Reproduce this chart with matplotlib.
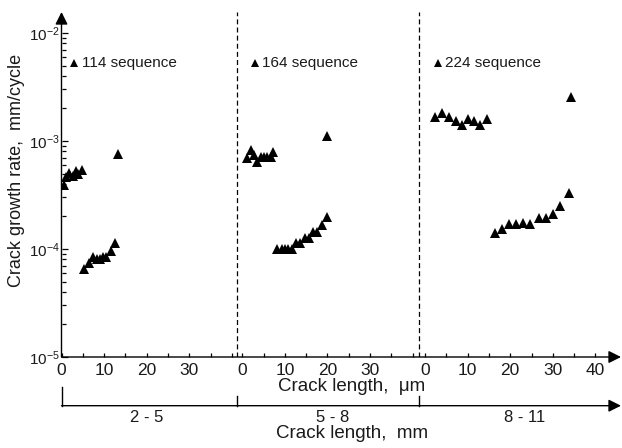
import matplotlib
matplotlib.use('Agg')
import matplotlib.pyplot as plt
from matplotlib import transforms

plt.rcParams['font.family'] = ['Liberation Sans', 'DejaVu Sans']
plt.rcParams['mathtext.fontset'] = 'custom'
plt.rcParams['mathtext.rm'] = 'Liberation Sans'
plt.rcParams['mathtext.it'] = 'Liberation Sans:italic'

# ---------------- data ----------------
seq_labels = ['114 sequence', '164 sequence', '224 sequence']
range_labels = ['2 - 5', '5 - 8', '8 - 11']
panel_ticks = [[0, 10, 20, 30], [0, 10, 20, 30], [0, 10, 20, 30, 40]]

s114_x = [0.66, 1.06, 1.83, 2.63, 3.40, 3.94, 4.74, 13.33,
          5.35, 6.53, 7.32, 8.40, 9.04, 9.81, 10.45, 11.62, 12.63]
s114_y = [3.9e-4, 4.67e-4, 5.08e-4, 4.74e-4, 5.24e-4, 4.95e-4, 5.39e-4, 7.58e-4,
          6.53e-5, 7.37e-5, 8.5e-5, 8.03e-5, 8.13e-5, 8.38e-5, 8.5e-5, 9.52e-5, 1.13e-4]

s164_x = [1.17, 1.97, 2.75, 3.52, 4.32, 5.09, 5.87, 6.67, 7.28, 19.81,
          8.22, 9.25, 10.02, 10.80, 11.60, 12.54, 13.54, 14.72, 15.73, 16.67, 17.61, 18.78, 19.88]
s164_y = [6.91e-4, 8.26e-4, 7.41e-4, 6.43e-4, 7.06e-4, 7.06e-4, 7.06e-4, 7.16e-4, 7.86e-4, 1.12e-3,
          1.01e-4, 1.0e-4, 1.0e-4, 1.0e-4, 1.0e-4, 1.13e-4, 1.14e-4, 1.27e-4, 1.27e-4,
          1.43e-4, 1.45e-4, 1.68e-4, 1.99e-4]

s224_x = [2.35, 3.92, 5.63, 7.28, 8.62, 10.02, 11.57, 12.91, 14.62, 34.27,
          16.36, 18.15, 19.65, 21.29, 23.00, 24.65, 26.69, 28.33, 29.98, 31.69, 33.73]
s224_y = [1.66e-3, 1.81e-3, 1.68e-3, 1.53e-3, 1.41e-3, 1.59e-3, 1.53e-3, 1.41e-3, 1.60e-3, 2.57e-3,
          1.40e-4, 1.53e-4, 1.71e-4, 1.71e-4, 1.75e-4, 1.71e-4, 1.95e-4, 1.95e-4,
          2.11e-4, 2.50e-4, 3.28e-4]

series_x = [s114_x, s164_x, s224_x]
series_y = [s114_y, s164_y, s224_y]

# ---------------- layout ----------------
W, H = 622, 448
px_per_unit = 4.26
panel_offsets = [0.0, 42.44, 85.33]
dash_pos = [41.15, 83.87]
x0_px, yb_px, yt_px, xr_px = 61.5, 357, 12, 621
xmax = (xr_px - x0_px) / px_per_unit
ymin_log, px_per_dec = -5, 108.0
ymax = 10 ** (ymin_log + (yb_px - yt_px) / px_per_dec)
ink = '#1a1a1a'

fig = plt.figure(figsize=(W / 100, H / 100), dpi=100)
ax = fig.add_axes([x0_px / W, (H - yb_px) / H, (xr_px - x0_px) / W, (yb_px - yt_px) / H])
ax.set_yscale('log')
ax.set_xlim(0, xmax)
ax.set_ylim(10 ** ymin_log, ymax)
for sp in ax.spines.values():
    sp.set_visible(False)

arrow_kw = dict(arrowstyle='-|>,head_length=0.5,head_width=0.25', color='black', lw=1.0,
                mutation_scale=15, shrinkA=0, shrinkB=0)
ax.annotate('', xy=(0, 1), xytext=(0, 0), xycoords='axes fraction', arrowprops=arrow_kw,
            annotation_clip=False)
ax.annotate('', xy=(1, 0), xytext=(0, 0), xycoords='axes fraction', arrowprops=arrow_kw,
            annotation_clip=False)

# x ticks
major, labels, minor = [], [], []
for off, tks in zip(panel_offsets, panel_ticks):
    for t in tks:
        major.append(off + t)
        labels.append(str(t))
    for m in range(5, 45, 10):
        minor.append(off + m)
    if off < 80:
        minor.append(off + 40)
ax.set_xticks(major)
ax.set_xticklabels(labels)
ax.set_xticks(minor, minor=True)
ax.tick_params(axis='x', which='both', direction='in', length=3, width=0.9, pad=4.5,
               labelsize=12.5, labelcolor=ink)

# y ticks
yt = [1e-5, 1e-4, 1e-3, 1e-2]
ax.set_yticks(yt)
ax.set_yticklabels(['10$^{-5}$', '10$^{-4}$', '10$^{-3}$', '10$^{-2}$'])
ax.tick_params(axis='y', which='major', direction='in', length=4.5, width=0.9, pad=1.5,
               labelsize=11, labelcolor=ink)
ax.tick_params(axis='y', which='minor', direction='in', length=3, width=0.9)

for d in dash_pos:
    ax.axvline(d, color='black', lw=0.9, ls=(0, (4, 2.5)))

# data
for off, xs, ys in zip(panel_offsets, series_x, series_y):
    ax.plot([off + x for x in xs], ys, ls='none', marker='^', ms=7.5, color='black',
            markeredgewidth=0)

# series labels
leg_y = 5.25e-3
for off, lab in zip(panel_offsets, seq_labels):
    ax.plot([off + 3.0], [leg_y], ls='none', marker='^', ms=5.5, color='black', markeredgewidth=0)
    ax.text(off + 4.7, leg_y, lab, va='center', ha='left', fontsize=11, color=ink)

# secondary (mm) axis
trans = transforms.blended_transform_factory(ax.transData, fig.transFigure)
y_mm = (H - 405.7) / H
ax.annotate('', xy=(xmax, y_mm), xytext=(0, y_mm), xycoords=trans, arrowprops=arrow_kw,
            annotation_clip=False)
ax.plot([0, 0], [y_mm, (H - 387) / H], transform=trans, color='black', lw=1.0, clip_on=False)
for d in dash_pos:
    ax.plot([d, d], [y_mm, (H - 396) / H], transform=trans, color='black', lw=1.0, clip_on=False)
range_x = [20.1, 63.7, 108.8]
for rx, lab in zip(range_x, range_labels):
    ax.text(rx, (H - 417.5) / H, lab, transform=trans, ha='center', va='center',
            fontsize=12, color=ink)

ax.text(68.2, (H - 386) / H, 'Crack length,  \u03bcm', transform=trans, ha='center',
        va='center', fontsize=13.5, color=ink)
ax.text(68.2, (H - 433) / H, 'Crack length,  mm', transform=trans, ha='center',
        va='center', fontsize=13.5, color=ink)
fig.text(17 / W, 1 - 170 / H, 'Crack growth rate,  mm/cycle', rotation=90, ha='center',
         va='center', fontsize=13, color=ink)

fig.savefig('out.png', dpi=100)
